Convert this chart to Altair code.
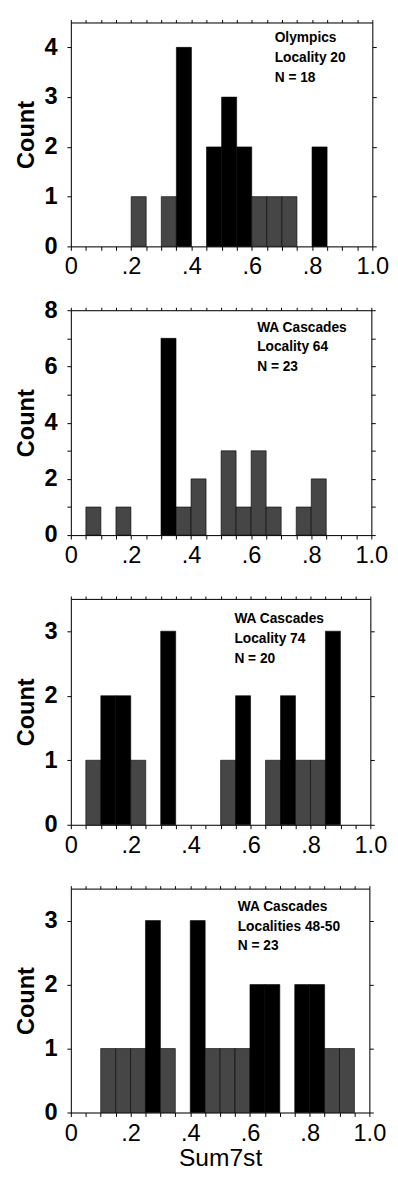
import altair as alt
import pandas as pd

# Bin starts (bin width 0.05) for Sum7st
bin_starts = [0.00, 0.05, 0.10, 0.15, 0.20, 0.25, 0.30, 0.35, 0.40, 0.45,
              0.50, 0.55, 0.60, 0.65, 0.70, 0.75, 0.80, 0.85, 0.90, 0.95]

# Counts per bin, per panel
counts_olympics = [0, 0, 0, 0, 1, 0, 1, 4, 0, 2, 3, 2, 1, 1, 1, 0, 2, 0, 0, 0]
counts_loc64 = [0, 1, 0, 1, 0, 0, 7, 1, 2, 0, 3, 1, 3, 1, 0, 1, 2, 0, 0, 0]
counts_loc74 = [0, 1, 2, 2, 1, 0, 3, 0, 0, 0, 1, 2, 0, 1, 2, 1, 1, 3, 0, 0]
counts_loc4850 = [0, 0, 1, 1, 1, 3, 1, 0, 3, 1, 1, 1, 2, 2, 0, 2, 2, 1, 1, 0]

# Shading per bin: k = solid black, g = stippled grey
shade_olympics = ["", "", "", "", "g", "", "g", "k", "", "k", "k", "k", "g", "g", "g", "", "k", "", "", ""]
shade_loc64 = ["", "g", "", "g", "", "", "k", "g", "g", "", "g", "g", "g", "g", "", "g", "g", "", "", ""]
shade_loc74 = ["", "g", "k", "k", "g", "", "k", "", "", "", "g", "k", "", "g", "k", "g", "g", "k", "", ""]
shade_loc4850 = ["", "", "g", "g", "g", "k", "g", "", "k", "g", "g", "g", "k", "k", "", "k", "k", "g", "g", ""]

labels_olympics = ["Olympics", "Locality 20", "N = 18"]
labels_loc64 = ["WA Cascades", "Locality 64", "N = 23"]
labels_loc74 = ["WA Cascades", "Locality 74", "N = 20"]
labels_loc4850 = ["WA Cascades", "Localities 48-50", "N = 23"]

x_ticks = [round(0.05 * i, 2) for i in range(21)]

FONT = "Liberation Sans"
X_LABEL_EXPR = ("(round(datum.value*100) % 20 == 0) ? "
                "(datum.value == 0 ? '0' : (datum.value >= 0.999 ? '1.0' : "
                "replace(format(datum.value, '.1f'), '0.', '.'))) : ''")


def panel(counts, shades, lines, ymax, ytick_vals, ylabel_step, tx, ty,
          show_xtitle, width, height):
    rows = []
    for lo, c, s in zip(bin_starts, counts, shades):
        if c > 0:
            rows.append({"lo": lo, "hi": round(lo + 0.05, 2), "count": c,
                         "shade": "black" if s == "k" else "grey"})
    df = pd.DataFrame(rows)

    xscale = alt.Scale(domain=[0, 1], nice=False, zero=False)
    yscale = alt.Scale(domain=[0, ymax], nice=False, zero=True)
    y_label_expr = f"(datum.value % {ylabel_step} == 0) ? datum.label : ''"

    bars = alt.Chart(df).mark_bar(stroke="black", strokeWidth=0.6).encode(
        x=alt.X("lo:Q", scale=xscale,
                axis=alt.Axis(orient="bottom", values=x_ticks, labelExpr=X_LABEL_EXPR,
                              title="Sum7st" if show_xtitle else None,
                              tickSize=4, labelPadding=5, labelFontSize=24,
                              labelFont=FONT, labelFlush=False, labelOverlap=False,
                              labelColor="black", titleFont=FONT, titleFontSize=25,
                              titleFontWeight="normal", titleColor="black",
                              titlePadding=1, grid=False, domainColor="black",
                              tickColor="black")),
        x2="hi:Q",
        y=alt.Y("count:Q", scale=yscale,
                axis=alt.Axis(orient="left", values=ytick_vals, labelExpr=y_label_expr,
                              title="Count", tickSize=4, labelPadding=10,
                              labelFontSize=24, labelFont=FONT, labelFontWeight="bold",
                              labelColor="black", labelFlush=False, labelOverlap=False,
                              titleFont=FONT, titleFontSize=24, titleFontWeight="bold",
                              titleColor="black", titlePadding=6, grid=False,
                              domainColor="black", tickColor="black")),
        y2=alt.Y2Datum(0),
        color=alt.Color("shade:N",
                        scale=alt.Scale(domain=["black", "grey"], range=["#000000", "#464646"]),
                        legend=None),
    )

    frame = alt.Chart(df).mark_point(opacity=0).encode(
        x=alt.X("lo:Q", scale=xscale,
                axis=alt.Axis(orient="top", values=x_ticks, labels=False, title=None,
                              tickSize=3, grid=False, domainColor="black",
                              tickColor="black")),
        y=alt.Y("count:Q", scale=yscale,
                axis=alt.Axis(orient="right", values=ytick_vals, labels=False, title=None,
                              tickSize=4, grid=False, domainColor="black",
                              tickColor="black")),
    )

    text = alt.Chart(pd.DataFrame({"k": [0]})).mark_text(
        align="left", baseline="top", font=FONT, fontSize=14, fontWeight="bold",
        lineHeight=20, color="black"
    ).encode(
        x=alt.XDatum(tx, axis=None),
        y=alt.YDatum(ty, axis=None),
        text=alt.value(lines),
    )

    return alt.layer(bars, frame, text).resolve_axis(x="independent", y="independent").properties(
        width=width, height=height)


p1 = panel(counts_olympics, shade_olympics, labels_olympics, 4.5, [0, 1, 2, 3, 4], 1,
           0.676, 4.32, False, 307, 228)
p2 = panel(counts_loc64, shade_loc64, labels_loc64, 8, [0, 1, 2, 3, 4, 5, 6, 7, 8], 2,
           0.62, 7.62, False, 306, 229)
p3 = panel(counts_loc74, shade_loc74, labels_loc74, 3.5, [0, 1, 2, 3], 1,
           0.546, 3.29, False, 305, 230)
p4 = panel(counts_loc4850, shade_loc4850, labels_loc4850, 3.5, [0, 1, 2, 3], 1,
           0.559, 3.32, True, 304, 228)

chart = alt.vconcat(p1, p2, p3, p4, spacing=65, bounds="flush").properties(
    padding={"left": 6, "top": 0, "right": 0, "bottom": 0}
).configure_view(stroke=None).configure(background="white")

chart.save("out.html", embed_options={"renderer": "svg", "actions": False})
